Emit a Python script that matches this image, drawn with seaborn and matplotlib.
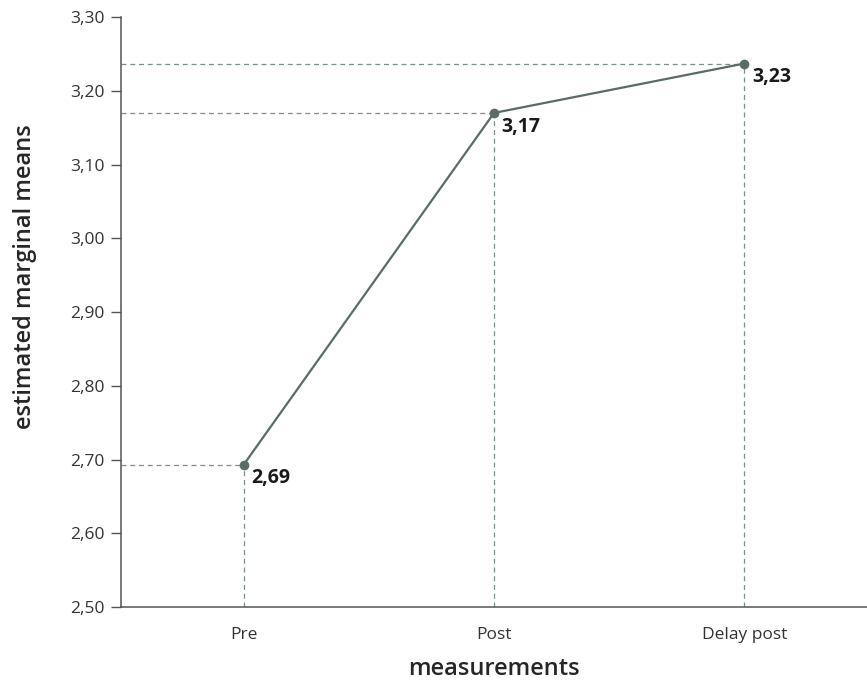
import pandas as pd
import matplotlib
matplotlib.use('Agg')
import matplotlib.pyplot as plt
import seaborn as sns
from matplotlib.ticker import FuncFormatter

# Datos
medidas = ['Pre', 'Post', 'Delay post']
medias = [2.693, 3.170, 3.237]
etiquetas = ['2,69', '3,17', '3,23']

sns.set_style('white')
plt.rcParams['font.family'] = ['Open Sans', 'DejaVu Sans']

datos = pd.DataFrame({'measurements': medidas, 'means': medias})

fig = plt.figure(figsize=(8.67, 6.83), dpi=100)
ax = fig.add_axes([0.1396, 0.1113, 0.8604, 0.8637])

color_linea = '#5b6b66'
sns.lineplot(data=datos, x='measurements', y='means', marker='o', color=color_linea,
             linewidth=1.6, markersize=7, markeredgewidth=0, ax=ax)

ax.set_xlim(-0.49, 2.49)
ax.set_ylim(2.5, 3.3)
ax.set_yticks([2.5, 2.6, 2.7, 2.8, 2.9, 3.0, 3.1, 3.2, 3.3])
ax.yaxis.set_major_formatter(FuncFormatter(lambda v, p: f'{v:.2f}'.replace('.', ',')))

# Lineas guia discontinuas
for i, m in enumerate(medias):
    ax.plot([-0.49, i], [m, m], ls=(0, (4, 3)), color='#7d8f8a', lw=0.9, zorder=1)
    ax.plot([i, i], [2.5, m], ls=(0, (4, 3)), color='#7d8f8a', lw=0.9, zorder=1)
    ax.text(i + 0.03, m - 0.005, etiquetas[i], fontsize=14, fontweight='bold',
            color='#1a1a1a', ha='left', va='top')

sns.despine(ax=ax)
for s in ['left', 'bottom']:
    ax.spines[s].set_color('#555555')
    ax.spines[s].set_linewidth(1.1)

ax.tick_params(axis='y', which='major', left=True, length=7, width=1, color='#555555',
               labelsize=12.5, labelcolor='#333333', pad=5)
ax.tick_params(axis='x', bottom=False, labelsize=12.5, labelcolor='#333333', pad=11)

ax.set_xlabel('measurements', fontsize=17, fontweight='semibold', labelpad=10)
ax.set_ylabel('estimated marginal means', fontsize=17, fontweight='semibold')
ax.yaxis.set_label_coords(-0.112, 0.56)

plt.savefig('out.png', dpi=100)
plt.close()
